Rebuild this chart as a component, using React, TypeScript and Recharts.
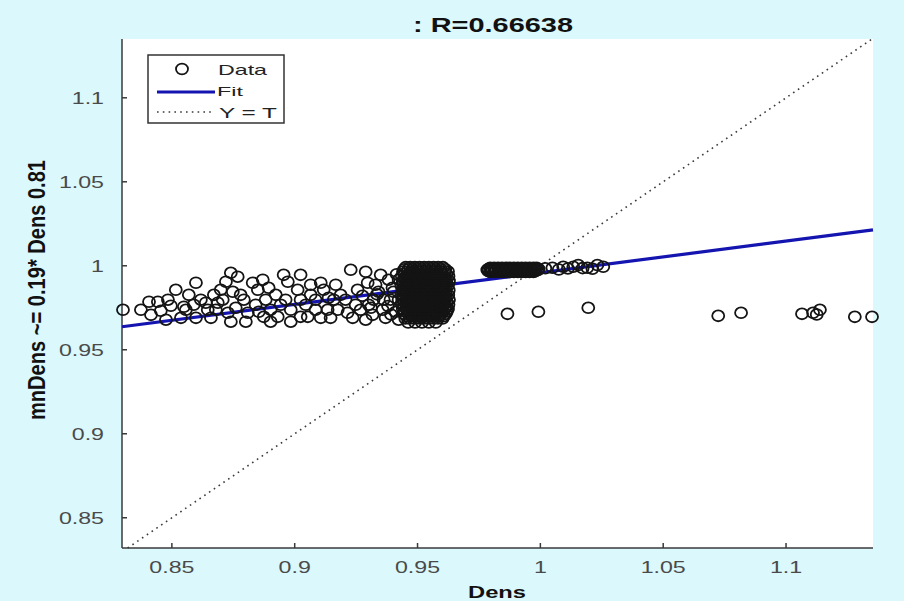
import React from 'react';
import { ScatterChart, Scatter, XAxis, YAxis, CartesianGrid } from 'recharts';

const W = 904;
const H = 601;

// axis ticks
const xTicks = [0.85, 0.9, 0.95, 1, 1.05, 1.1];
const xTickLabels = ['0.85', '0.9', '0.95', '1', '1.05', '1.1'];
const yTicks = [0.85, 0.9, 0.95, 1, 1.05, 1.1];
const yTickLabels = ['0.85', '0.9', '0.95', '1', '1.05', '1.1'];
const xDomain = [0.8297, 1.1354];
const yDomain = [0.832, 1.135];

// scattered low-density group (Dens 0.83 - 0.94)
const spreadX = [
  0.8301, 0.8407, 0.8443, 0.8484, 0.8496, 0.8455, 0.8415, 0.8549, 0.8589, 0.8598,
  0.8537, 0.8646, 0.8598, 0.8671, 0.8720, 0.8740, 0.8768, 0.8687, 0.8728, 0.8740,
  0.8793, 0.8809, 0.8829, 0.8850, 0.8874, 0.8902, 0.8931, 0.8955, 0.8972, 0.8984,
  0.9012, 0.9024, 0.9053, 0.9065, 0.9106, 0.9118, 0.9134, 0.9175, 0.9215, 0.9228,
  0.9256, 0.9268, 0.9297, 0.9321, 0.9341, 0.9358, 0.9370, 0.9382, 0.9390, 0.9398,
  0.9411, 0.9350, 0.9317, 0.9289, 0.9187, 0.9159, 0.9085, 0.9045, 0.8963, 0.8923,
  0.8882, 0.8841, 0.8780, 0.8760, 0.8699, 0.8659, 0.8618, 0.8569, 0.8516, 0.8476,
  0.8374, 0.8870, 0.8894, 0.8801, 0.9106, 0.9167, 0.9207, 0.9248, 0.9276, 0.9024,
  0.8984, 0.8943, 0.8679, 0.8638, 0.9085, 0.9236, 0.9138, 0.8902, 0.8854, 0.8707,
  0.8748, 0.8557, 0.9024, 0.9065, 0.9146, 0.9301, 0.9329, 0.9362, 0.9423, 0.9423,
  0.9423, 0.9289, 0.9380, 0.9402, 0.9335, 0.9310, 0.9392, 0.9415,
];
const spreadY = [
  0.9738, 0.9786, 0.9786, 0.9798, 0.9762, 0.9732, 0.9708, 0.9756, 0.9768, 0.9690,
  0.9690, 0.9738, 0.9899, 0.9827, 0.9905, 0.9958, 0.9935, 0.9780, 0.9720, 0.9667,
  0.9798, 0.9720, 0.9899, 0.9857, 0.9696, 0.9738, 0.9696, 0.9946, 0.9905, 0.9667,
  0.9857, 0.9696, 0.9696, 0.9887, 0.9899, 0.9857, 0.9738, 0.9738, 0.9720, 0.9976,
  0.9857, 0.9738, 0.9899, 0.9798, 0.9845, 0.9738, 0.9690, 0.9917, 0.9798, 0.9869,
  0.9726, 0.9946, 0.9708, 0.9679, 0.9827, 0.9798, 0.9798, 0.9768, 0.9798, 0.9827,
  0.9798, 0.9768, 0.9827, 0.9750, 0.9857, 0.9690, 0.9798, 0.9827, 0.9857, 0.9679,
  0.9738, 0.9917, 0.9869, 0.9667, 0.9690, 0.9887, 0.9798, 0.9768, 0.9821, 0.9798,
  0.9738, 0.9768, 0.9738, 0.9780, 0.9738, 0.9690, 0.9810, 0.9667, 0.9726, 0.9798,
  0.9845, 0.9738, 0.9946, 0.9827, 0.9690, 0.9768, 0.9887, 0.9798, 0.9917, 0.9798,
  0.9679, 0.9964, 0.9760, 0.9845, 0.9830, 0.9750, 0.9710, 0.9950,
];

// dense block near Dens 0.95 (rows: mnDens value, Dens values)
const blobRows: [number, number[]][] = [
  [0.9992, [0.9452, 0.9470, 0.9489, 0.9508, 0.9527, 0.9546, 0.9565, 0.9584, 0.9603]],
  [0.9979, [0.9446, 0.9462, 0.9480, 0.9499, 0.9518, 0.9537, 0.9556, 0.9575, 0.9594, 0.9613]],
  [0.9966, [0.9441, 0.9460, 0.9479, 0.9498, 0.9517, 0.9536, 0.9555, 0.9574, 0.9593, 0.9612, 0.9624]],
  [0.9952, [0.9446, 0.9465, 0.9484, 0.9503, 0.9522, 0.9541, 0.9560, 0.9579, 0.9598, 0.9617]],
  [0.9938, [0.9436, 0.9455, 0.9474, 0.9493, 0.9512, 0.9531, 0.9550, 0.9569, 0.9588, 0.9607, 0.9626]],
  [0.9924, [0.9445, 0.9464, 0.9483, 0.9502, 0.9521, 0.9540, 0.9559, 0.9578, 0.9597, 0.9616]],
  [0.9910, [0.9440, 0.9459, 0.9478, 0.9497, 0.9516, 0.9535, 0.9554, 0.9573, 0.9592, 0.9611, 0.9628]],
  [0.9896, [0.9444, 0.9463, 0.9482, 0.9501, 0.9520, 0.9539, 0.9558, 0.9577, 0.9596, 0.9615]],
  [0.9882, [0.9434, 0.9453, 0.9472, 0.9491, 0.9510, 0.9529, 0.9548, 0.9567, 0.9586, 0.9605, 0.9624]],
  [0.9868, [0.9443, 0.9462, 0.9481, 0.9500, 0.9519, 0.9538, 0.9557, 0.9576, 0.9595, 0.9614]],
  [0.9854, [0.9438, 0.9457, 0.9476, 0.9495, 0.9514, 0.9533, 0.9552, 0.9571, 0.9590, 0.9609, 0.9627]],
  [0.9840, [0.9444, 0.9463, 0.9482, 0.9501, 0.9520, 0.9539, 0.9558, 0.9577, 0.9596, 0.9615]],
  [0.9826, [0.9435, 0.9454, 0.9473, 0.9492, 0.9511, 0.9530, 0.9549, 0.9568, 0.9587, 0.9606, 0.9625]],
  [0.9812, [0.9445, 0.9464, 0.9483, 0.9502, 0.9521, 0.9540, 0.9559, 0.9578, 0.9597, 0.9616]],
  [0.9798, [0.9439, 0.9458, 0.9477, 0.9496, 0.9515, 0.9534, 0.9553, 0.9572, 0.9591, 0.9610, 0.9628]],
  [0.9784, [0.9446, 0.9465, 0.9484, 0.9503, 0.9522, 0.9541, 0.9560, 0.9579, 0.9598, 0.9617]],
  [0.9770, [0.9436, 0.9455, 0.9474, 0.9493, 0.9512, 0.9531, 0.9550, 0.9569, 0.9588, 0.9607, 0.9626]],
  [0.9756, [0.9445, 0.9464, 0.9483, 0.9502, 0.9521, 0.9540, 0.9559, 0.9578, 0.9597, 0.9616]],
  [0.9742, [0.9440, 0.9459, 0.9478, 0.9497, 0.9516, 0.9535, 0.9554, 0.9573, 0.9592, 0.9611, 0.9624]],
  [0.9728, [0.9448, 0.9467, 0.9486, 0.9505, 0.9524, 0.9543, 0.9562, 0.9581, 0.9600, 0.9619]],
  [0.9714, [0.9444, 0.9463, 0.9482, 0.9501, 0.9520, 0.9539, 0.9558, 0.9577, 0.9596, 0.9615]],
  [0.9700, [0.9455, 0.9474, 0.9493, 0.9512, 0.9531, 0.9550, 0.9569, 0.9588, 0.9607]],
  [0.9686, [0.9450, 0.9469, 0.9488, 0.9507, 0.9526, 0.9545, 0.9564, 0.9583, 0.9602]],
  [0.9662, [0.9462, 0.9490, 0.9518, 0.9546, 0.9574]],
];

// dense strip near Dens 0.98 - 1.0
const bandRows: [number, number[]][] = [
  [0.9988, [0.9796, 0.9812, 0.9828, 0.9844, 0.9860, 0.9876, 0.9892, 0.9908, 0.9924, 0.9940, 0.9956, 0.9972, 0.9985]],
  [0.9981, [0.9788, 0.9804, 0.9820, 0.9836, 0.9852, 0.9868, 0.9884, 0.9900, 0.9916, 0.9932, 0.9948, 0.9964, 0.9980, 0.9993]],
  [0.9975, [0.9784, 0.9799, 0.9815, 0.9831, 0.9847, 0.9863, 0.9879, 0.9895, 0.9911, 0.9927, 0.9943, 0.9959, 0.9975, 0.9990]],
  [0.9969, [0.9788, 0.9804, 0.9820, 0.9836, 0.9852, 0.9868, 0.9884, 0.9900, 0.9916, 0.9932, 0.9948, 0.9964, 0.9980]],
  [0.9963, [0.9796, 0.9812, 0.9828, 0.9844, 0.9860, 0.9876, 0.9892, 0.9908, 0.9924, 0.9940, 0.9956, 0.9972]],
];
const tailX = [1.0020, 1.0049, 1.0075, 1.0093, 1.0112, 1.0134, 1.0154, 1.0172, 1.0191, 1.0212, 1.0232, 1.0256];
const tailY = [0.9985, 0.9988, 0.9978, 0.9994, 0.9984, 0.9994, 1.0004, 0.9986, 0.9988, 0.9982, 1.0004, 0.9994];

// isolated points
const outlierX = [0.9866, 0.9992, 1.0195, 1.0724, 1.0817, 1.1065, 1.1110, 1.1138, 1.1125, 1.1280, 1.1350];
const outlierY = [0.9714, 0.9726, 0.9750, 0.9702, 0.9720, 0.9714, 0.9720, 0.9738, 0.9710, 0.9696, 0.9696];

// fit line and identity line end points
const fitX = [0.8297, 1.1354];
const fitY = [0.9637, 1.0214];
const identX = [0.832, 1.135];
const identY = [0.832, 1.135];

const zip = (xs: number[], ys: number[]) => xs.map((x, i) => ({ x, y: ys[i] }));
const fromRows = (rows: [number, number[]][]) =>
  rows.flatMap(([y, xs]) => xs.map((x) => ({ x, y })));

const dataPts = [
  ...zip(spreadX, spreadY),
  ...fromRows(blobRows),
  ...fromRows(bandRows),
  ...zip(tailX, tailY),
  ...zip(outlierX, outlierY),
];
const fitPts = zip(fitX, fitY);
const identPts = zip(identX, identY);

const AXIS = '#3a3a3a';
const FONT = 'Liberation Sans, Arial, Helvetica, sans-serif';
const BG = '#dbf8fc';

const labelFor = (ticks: number[], labels: string[], v: number) => {
  const i = ticks.findIndex((t) => Math.abs(t - v) < 1e-9);
  return i >= 0 ? labels[i] : String(v);
};

const BottomTick = (props: any) => {
  const { x, y, payload } = props;
  return (
    <g>
      <line x1={x} x2={x} y1={y} y2={y - 5} stroke={AXIS} strokeWidth={1.5} />
      <text
        transform={`translate(${x} ${y + 25}) scale(1.45 1)`}
        textAnchor="middle"
        fontSize={16}
        fill="#4a4a4a"
        fontFamily={FONT}
      >
        {labelFor(xTicks, xTickLabels, payload.value)}
      </text>
    </g>
  );
};

const LeftTick = (props: any) => {
  const { x, y, payload } = props;
  return (
    <g>
      <line x1={x} x2={x + 5} y1={y} y2={y} stroke={AXIS} strokeWidth={1.5} />
      <text
        transform={`translate(${x - 18} ${y + 6}) scale(1.45 1)`}
        textAnchor="end"
        fontSize={16}
        fill="#4a4a4a"
        fontFamily={FONT}
      >
        {labelFor(yTicks, yTickLabels, payload.value)}
      </text>
    </g>
  );
};

const TopTick = (props: any) => {
  const { x, y } = props;
  return <line x1={x} x2={x} y1={y} y2={y + 5} stroke={AXIS} strokeWidth={1.5} />;
};

const RightTick = (props: any) => {
  const { x, y } = props;
  return <line x1={x} x2={x - 5} y1={y} y2={y} stroke={AXIS} strokeWidth={1.5} />;
};

const Marker = (props: any) => {
  const { cx, cy } = props;
  if (cx == null || cy == null) return <g />;
  return <ellipse cx={cx} cy={cy} rx={6} ry={5.4} fill="none" stroke="#141414" strokeWidth={1.8} />;
};

const NoMarker = () => <g />;

export default function App() {
  return (
    <div style={{ position: 'fixed', left: 0, top: 0, width: W, height: H, background: BG, overflow: 'hidden' }}>
      <ScatterChart width={W} height={H} margin={{ top: 39, right: 31, bottom: 0, left: 0 }}>
        <CartesianGrid fill="#ffffff" horizontal={false} vertical={false} />
        <XAxis
          type="number"
          dataKey="x"
          domain={xDomain}
          ticks={xTicks}
          interval={0}
          height={53}
          tickSize={0}
          tickMargin={0}
          tickLine={false}
          axisLine={{ stroke: AXIS, strokeWidth: 1.5 }}
          tick={BottomTick}
        />
        <XAxis
          xAxisId="top"
          orientation="top"
          type="number"
          dataKey="x"
          domain={xDomain}
          ticks={xTicks}
          interval={0}
          height={0}
          tickSize={0}
          tickMargin={0}
          tickLine={false}
          axisLine={{ stroke: AXIS, strokeWidth: 1.5 }}
          tick={TopTick}
        />
        <YAxis
          type="number"
          dataKey="y"
          domain={yDomain}
          ticks={yTicks}
          interval={0}
          width={122}
          tickSize={0}
          tickMargin={0}
          tickLine={false}
          axisLine={{ stroke: AXIS, strokeWidth: 1.5 }}
          tick={LeftTick}
        />
        <YAxis
          yAxisId="right"
          orientation="right"
          type="number"
          dataKey="y"
          domain={yDomain}
          ticks={yTicks}
          interval={0}
          width={0}
          tickSize={0}
          tickMargin={0}
          tickLine={false}
          axisLine={{ stroke: AXIS, strokeWidth: 1.5 }}
          tick={RightTick}
        />
        <Scatter
          name="Y = T"
          data={identPts}
          line={{ stroke: '#3a3a3a', strokeWidth: 1.6, strokeDasharray: '1.6 4.2' }}
          shape={NoMarker}
          isAnimationActive={false}
        />
        <Scatter
          name="Fit"
          data={fitPts}
          line={{ stroke: '#1414b0', strokeWidth: 3.2 }}
          shape={NoMarker}
          isAnimationActive={false}
        />
        <Scatter name="Data" data={dataPts} shape={Marker} isAnimationActive={false} />
      </ScatterChart>
      <svg
        width={W}
        height={H}
        style={{ position: 'absolute', left: 0, top: 0, pointerEvents: 'none' }}
        fontFamily={FONT}
      >
        <text x={493} y={32} textAnchor="middle" fontSize={21} fontWeight="bold" fill="#111"
          textLength={160} lengthAdjust="spacingAndGlyphs">: R=0.66638</text>
        <text x={497} y={598} textAnchor="middle" fontSize={17} fontWeight="bold" fill="#111"
          textLength={58} lengthAdjust="spacingAndGlyphs">Dens</text>
        <text transform="translate(45 290) scale(1.45 1) rotate(-90)" textAnchor="middle" fontSize={16}
          fontWeight="bold" fill="#111" textLength={260} lengthAdjust="spacingAndGlyphs">
          mnDens ~= 0.19* Dens  0.81
        </text>
        <g>
          <rect x={148} y={55} width={136} height={68} fill="#ffffff" stroke="#333" strokeWidth={1.5} />
          <ellipse cx={182} cy={69} rx={6} ry={5.4} fill="none" stroke="#141414" strokeWidth={1.8} />
          <text x={218} y={75} fontSize={15} fill="#222" textLength={49} lengthAdjust="spacingAndGlyphs">Data</text>
          <line x1={157} x2={215} y1={92} y2={92} stroke="#1414b0" strokeWidth={3.2} />
          <text x={217} y={96} fontSize={12} fill="#222" textLength={26} lengthAdjust="spacingAndGlyphs">Fit</text>
          <line x1={157} x2={213} y1={112} y2={112} stroke="#3a3a3a" strokeWidth={1.6} strokeDasharray="1.6 4.2" />
          <text x={219} y={118} fontSize={15} fill="#222" textLength={58} lengthAdjust="spacingAndGlyphs">Y = T</text>
        </g>
      </svg>
    </div>
  );
}
